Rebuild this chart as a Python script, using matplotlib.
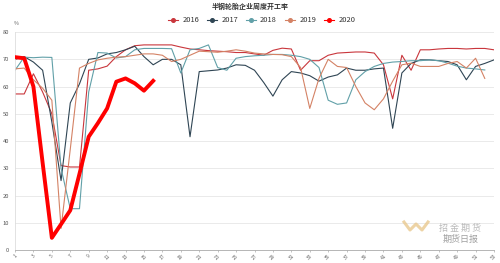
import matplotlib.pyplot as plt
from matplotlib.lines import Line2D

plt.rcParams['font.family'] = ['Noto Sans CJK SC', 'DejaVu Sans']

# ==================================================
# DATA (weekly operating rate, %)
# ==================================================

title = "半钢轮胎企业周度开工率"
years = ["2016", "2017", "2018", "2019", "2020"]

y2016 = [57.3, 57.3, 64.7, 58, 50, 31, 30.5, 30.5, 66, 66.5, 67.5, 71, 73.5, 75,
         75.3, 75.3, 75.3, 75.3, 74.5, 73.8, 73.5, 73.2, 73, 72.8, 72.5, 72.5, 72,
         71.5, 73.3, 74.1, 73.8, 66, 69.5, 69.5, 71.5, 72.3, 72.5, 72.7, 72.7, 72.3,
         68, 55.5, 71.5, 66, 73.5, 73.5, 73.8, 74, 74, 73.8, 74, 74, 73.5]
y2017 = [70, 71, 69, 66, 47, 25.5, 54, 61, 70, 70.5, 72, 72.5, 73.5, 74.8, 71, 68,
         70, 70, 68, 41.6, 65.5, 65.8, 66.1, 66.8, 68, 67.8, 66, 61.5, 56.5, 62.5,
         65.5, 65, 64, 62, 63.5, 64.3, 66.8, 66, 66, 66.5, 66.8, 44.7, 65, 68.5,
         69.8, 69.8, 69.5, 69.2, 68, 62.5, 67.4, 68.5, 69.8]
y2018 = [66, 70.8, 70.6, 70.8, 70.7, 30, 15.2, 15.2, 58, 72.5, 72.3, 70.5, 71, 73.5,
         74, 74, 74, 73.9, 65, 73.5, 74, 75.3, 67, 66, 70.4, 71, 71.3, 71.5, 71.8,
         71.8, 71.5, 71, 70, 67, 55, 53.5, 54, 62.5, 65.5, 67.4, 68.5, 69, 69.2,
         69.5, 69.5, 69.8, 69.5, 68.6, 67.5, 66.8, 66.5, 66.1]
y2019 = [66.5, 66.8, 62.5, 59.4, 55, 8, 37, 66.8, 68.5, 69.8, 70.4, 70.8, 71, 71.5,
         72, 72, 71.5, 69.2, 70, 71.5, 73, 72.8, 72.6, 73, 73.5, 73, 72.3, 72, 71.8,
         71.7, 71, 67, 52, 63, 70, 67.4, 67, 60, 54, 51.5, 55.5, 62, 68, 68.6, 67.4,
         67.4, 67.4, 68.5, 69.2, 66.8, 70.4, 63]
y2020 = [70.8, 70.4, 60, 32, 4.5, 9.5, 14.6, 28, 41.6, 46.6, 52, 61.8, 63, 61.2,
         58.5, 62.1]

series = [y2016, y2017, y2018, y2019, y2020]
colors = ["#c9363c", "#2f4554", "#61a0a8", "#d48265", "#ff0000"]
widths = [0.8, 0.8, 0.8, 0.8, 2.8]

weeks_ticks = list(range(1, 54, 2))

# ==================================================
# PLOT
# ==================================================

fig = plt.figure(figsize=(5, 2.63), dpi=100)
ax = fig.add_axes([0.03, 0.049, 0.958, 0.829])

for vals, c, lw in zip(series, colors, widths):
    ax.plot(range(1, len(vals) + 1), vals, color=c, lw=lw, zorder=3 if lw > 1 else 2,
            solid_joinstyle="round")

ax.set_xlim(1, 53)
ax.set_ylim(0, 80)
ax.set_yticks(range(0, 81, 10))
ax.yaxis.grid(True, color="#e6e6e6", lw=0.6)
ax.set_axisbelow(True)

ax.set_xticks(weeks_ticks)
ax.set_xticklabels([str(w) for w in weeks_ticks], rotation=45, fontsize=3.6,
                   color="#666666")
ax.tick_params(axis="x", length=1.5, width=0.5, color="#aaaaaa", pad=1)
ax.tick_params(axis="y", length=0, labelsize=4.2, labelcolor="#555555", pad=4)

for s in ["top", "right"]:
    ax.spines[s].set_visible(False)
ax.spines["left"].set_color("#dddddd")
ax.spines["left"].set_linewidth(0.6)
ax.spines["bottom"].set_color("#aaaaaa")
ax.spines["bottom"].set_linewidth(0.6)

fig.text(0.5, 0.977, title, ha="center", va="center", fontsize=5,
         fontweight="bold", color="#333333")
fig.text(0.032, 0.912, "%", ha="center", va="center", fontsize=3.8, color="#666666")

# legend, ECharts style (line + dot)
icon_x = [173, 212, 250.5, 290, 329]
ly = 1 - 19.5 / 263
for x, lab, c in zip(icon_x, years, colors):
    fig.add_artist(Line2D([(x - 5) / 500, (x + 5) / 500], [ly, ly], color=c, lw=0.8))
    fig.add_artist(Line2D([x / 500], [ly], marker="o", ms=2.6, color=c,
                          markeredgecolor=c))
    fig.text((x + 9.5) / 500, ly, lab, ha="left", va="center", fontsize=5.4,
             color="#333333")

# watermark
fig.add_artist(Line2D([404 / 500, 410 / 500, 416 / 500, 422 / 500, 428 / 500],
                      [1 - 222 / 263, 1 - 230 / 263, 1 - 224 / 263, 1 - 230 / 263,
                       1 - 222 / 263], color="#e9c98f", lw=2.2, alpha=0.8))
fig.text(460 / 500, 1 - 228 / 263, "招 金 期 货", ha="center", va="center",
         fontsize=6.5, color="#a8a8a8", alpha=0.8)
fig.text(461 / 500, 1 - 239 / 263, "期货日报", ha="center", va="center",
         fontsize=6.5, color="#888888", alpha=0.8)

plt.savefig("out.png", dpi=100, facecolor="white")
